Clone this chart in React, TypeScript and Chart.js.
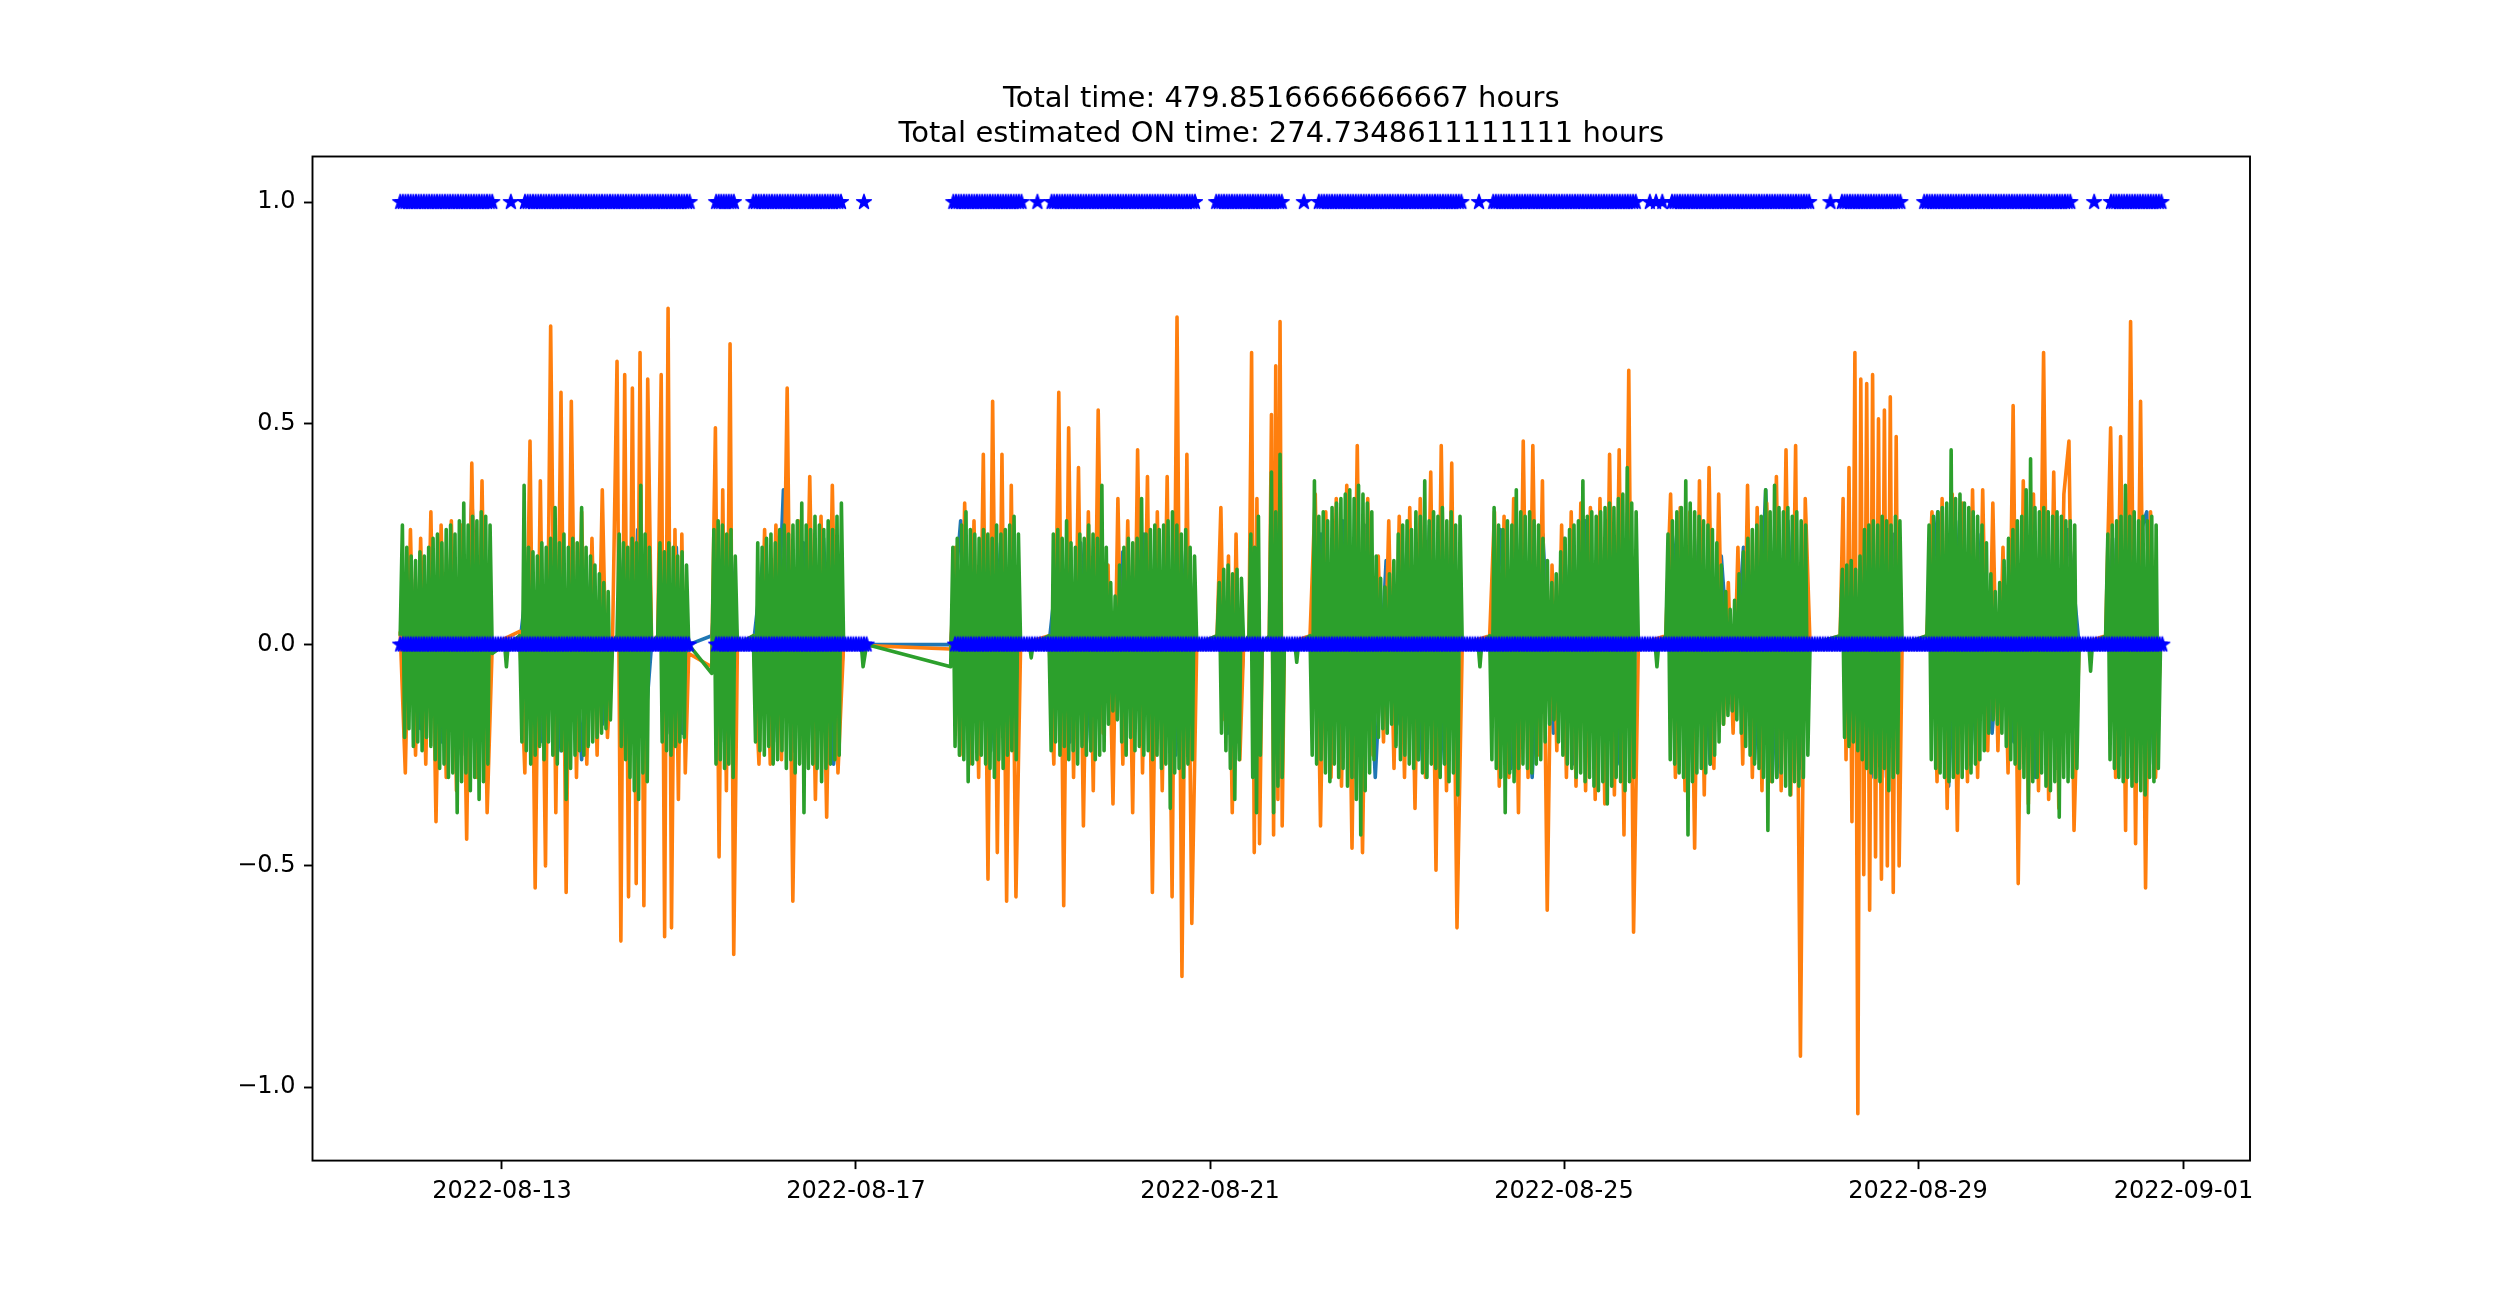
import React, { useEffect, useRef } from "react";
import { Chart, registerables } from "chart.js";
Chart.register(...registerables);

/** ---------- Data (x unit: days since 2022-08-11 00:00) ---------- */
const titleLines = [
  "Total time: 479.8516666666667 hours",
  "Total estimated ON time: 274.7348611111111 hours",
];

const xTickDays = [2, 6, 10, 14, 18, 21];
const xTickLabels = ["2022-08-13", "2022-08-17", "2022-08-21", "2022-08-25", "2022-08-29", "2022-09-01"];
const yTickValues = [-1, -0.5, 0, 0.5, 1];
const yTickLabels = ["\u22121.0", "\u22120.5", "0.0", "0.5", "1.0"];

const X_MIN = -0.141;
const X_MAX = 21.751;
const Y_MIN = -1.166;
const Y_MAX = 1.103;

// active bursts of the signal [start, end] in days; samples are spread evenly inside each one
const bursts: [number, number][] = [
  [0.85, 1.89], [2.2, 3.25], [3.3, 3.69], [3.76, 4.11], [4.37, 4.66], [4.84, 5.86],
  [7.07, 7.86], [8.18, 9.85], [10.08, 10.38], [10.44, 10.59], [10.67, 10.84],
  [11.13, 12.85], [13.16, 14.84], [15.15, 16.78], [17.12, 17.82], [18.1, 19.82], [20.12, 20.74],
];

const greenBursts: number[][] = [
  [0.02, 0.27, -0.21, 0.22, -0.19, 0.2, -0.23, 0.19, -0.22, 0.21, -0.24, 0.2, -0.21, 0.22, -0.23, 0.24, -0.26, 0.25, -0.28, 0.23, -0.27, 0.26, -0.3, 0.27, -0.29, 0.25, -0.38, 0.28, -0.31, 0.32, -0.29, 0.27, -0.33, 0.29, -0.3, 0.28, -0.35, 0.3, -0.31, 0.29, -0.27, 0.27, -0.02],
  [0.02, -0.22, 0.36, -0.24, 0.22, -0.27, 0.21, -0.25, 0.2, -0.23, 0.23, -0.26, 0.22, -0.22, 0.24, -0.25, 0.31, -0.27, 0.23, -0.24, 0.25, -0.35, 0.22, -0.28, 0.24, -0.25, 0.23, -0.24, 0.31, -0.25, 0.22, -0.23, 0.2, -0.22, 0.18, -0.21, 0.16, -0.2, 0.14, -0.19, 0.12, -0.17, 0.01],
  [0.02, 0.25, -0.23, 0.23, -0.26, 0.22, -0.3, 0.24, -0.33, 0.23, -0.35, 0.36, -0.29, 0.25, -0.31, 0.22, 0.0],
  [0.02, 0.23, -0.22, 0.21, -0.24, 0.23, -0.25, 0.22, -0.23, 0.2, -0.22, 0.21, -0.21, 0.18, 0.0],
  [-0.065, 0.26, -0.27, 0.28, -0.26, 0.27, -0.28, 0.25, -0.27, 0.26, -0.3, 0.2, 0.0],
  [0.02, -0.22, 0.23, -0.24, 0.22, -0.25, 0.24, -0.23, 0.25, -0.27, 0.23, -0.26, 0.26, -0.24, 0.27, -0.28, 0.25, -0.26, 0.27, -0.29, 0.28, -0.27, 0.32, -0.38, 0.27, -0.28, 0.26, -0.27, 0.29, -0.28, 0.27, -0.31, 0.26, -0.28, 0.28, -0.27, 0.26, -0.26, 0.29, -0.25, 0.32, 0.0],
  [-0.05, 0.22, -0.23, 0.24, -0.25, 0.27, -0.26, 0.3, -0.31, 0.26, -0.27, 0.25, -0.26, 0.24, -0.25, 0.26, -0.27, 0.25, -0.28, 0.24, -0.3, 0.27, -0.26, 0.25, -0.28, 0.26, -0.25, 0.27, -0.24, 0.29, -0.26, 0.25, 0.0],
  [0.02, -0.24, 0.25, -0.22, 0.26, -0.25, 0.24, -0.23, 0.28, -0.26, 0.23, -0.24, 0.22, -0.27, 0.25, -0.23, 0.24, -0.25, 0.27, -0.24, 0.25, -0.26, 0.24, -0.25, 0.36, -0.24, 0.22, -0.18, 0.14, -0.15, 0.11, -0.17, 0.18, -0.22, 0.22, -0.25, 0.24, -0.21, 0.23, -0.24, 0.24, -0.23, 0.33, -0.25, 0.25, -0.24, 0.26, -0.26, 0.27, -0.25, 0.26, -0.28, 0.27, -0.27, 0.28, -0.37, 0.3, -0.29, 0.27, -0.28, 0.25, -0.3, 0.26, -0.27, 0.22, -0.26, 0.2, 0.0],
  [0.02, 0.14, -0.2, 0.17, -0.24, 0.18, -0.28, 0.16, -0.35, 0.17, -0.26, 0.15, 0.0],
  [0.02, 0.25, -0.3, 0.22, -0.38, 0.29, -0.25, 0.0],
  [0.02, 0.39, -0.38, 0.3, -0.32, 0.43, -0.3, 0.0],
  [0.02, -0.25, 0.37, -0.27, 0.29, -0.26, 0.3, -0.29, 0.28, -0.31, 0.31, -0.27, 0.32, -0.3, 0.33, -0.28, 0.34, -0.32, 0.35, -0.3, 0.33, -0.35, 0.36, -0.43, 0.34, -0.33, 0.32, -0.29, 0.3, -0.26, 0.2, -0.21, 0.15, -0.19, 0.13, -0.2, 0.16, -0.18, 0.19, -0.23, 0.25, -0.26, 0.27, -0.25, 0.28, -0.27, 0.26, -0.28, 0.3, -0.26, 0.29, -0.29, 0.37, -0.3, 0.28, -0.27, 0.3, -0.28, 0.29, -0.3, 0.31, -0.27, 0.28, -0.31, 0.3, -0.29, 0.27, -0.34, 0.29, 0.0],
  [0.02, -0.26, 0.31, -0.28, 0.27, -0.3, 0.26, -0.38, 0.28, -0.29, 0.27, -0.31, 0.35, -0.28, 0.3, -0.27, 0.29, -0.28, 0.3, -0.29, 0.28, -0.27, 0.27, -0.26, 0.24, -0.22, 0.19, -0.18, 0.14, -0.17, 0.16, -0.22, 0.21, -0.25, 0.24, -0.27, 0.26, -0.28, 0.27, -0.3, 0.28, -0.29, 0.37, -0.31, 0.29, -0.3, 0.3, -0.32, 0.29, -0.33, 0.3, -0.31, 0.31, -0.36, 0.32, -0.32, 0.31, -0.3, 0.33, -0.31, 0.34, -0.33, 0.4, -0.31, 0.32, -0.3, 0.3, 0.0],
  [0.02, 0.25, -0.26, 0.28, -0.27, 0.3, -0.29, 0.31, -0.3, 0.37, -0.43, 0.32, -0.31, 0.3, -0.29, 0.29, -0.28, 0.28, -0.29, 0.27, -0.27, 0.26, -0.25, 0.23, -0.22, 0.18, -0.18, 0.12, -0.16, 0.08, -0.15, 0.1, -0.17, 0.16, -0.2, 0.21, -0.23, 0.24, -0.25, 0.26, -0.27, 0.27, -0.28, 0.29, -0.3, 0.35, -0.42, 0.3, -0.31, 0.36, -0.3, 0.31, -0.29, 0.3, -0.32, 0.31, -0.34, 0.29, -0.31, 0.3, -0.32, 0.28, -0.3, 0.27, -0.25, 0.0],
  [0.02, 0.17, -0.21, 0.18, -0.23, 0.19, -0.22, 0.17, -0.24, 0.2, -0.26, 0.26, -0.28, 0.27, -0.29, 0.28, -0.3, 0.27, -0.31, 0.29, -0.28, 0.28, -0.33, 0.27, -0.3, 0.29, -0.29, 0.28, 0.0],
  [0.02, 0.27, -0.26, 0.29, -0.28, 0.3, -0.29, 0.31, -0.3, 0.32, -0.31, 0.44, -0.3, 0.33, -0.29, 0.34, -0.3, 0.32, -0.28, 0.31, -0.29, 0.3, -0.27, 0.29, -0.26, 0.27, -0.24, 0.23, -0.2, 0.16, -0.17, 0.12, -0.18, 0.14, -0.2, 0.19, -0.23, 0.24, -0.26, 0.26, -0.27, 0.28, -0.28, 0.29, -0.3, 0.35, -0.38, 0.42, -0.31, 0.31, -0.3, 0.3, -0.29, 0.31, -0.32, 0.3, -0.33, 0.29, -0.31, 0.3, -0.39, 0.29, -0.3, 0.28, -0.31, 0.28, -0.3, 0.27, -0.28, 0.0],
  [0.02, 0.25, -0.26, 0.27, -0.28, 0.28, -0.3, 0.29, -0.31, 0.36, -0.3, 0.29, -0.32, 0.3, -0.31, 0.28, -0.33, 0.29, -0.34, 0.28, -0.3, 0.29, -0.31, 0.27, -0.28, 0.0],
];

const orangeBursts: number[][] = [
  [0.03, -0.29, 0.26, -0.25, 0.24, -0.27, 0.3, -0.4, 0.27, -0.3, 0.28, -0.33, 0.27, -0.44, 0.41, -0.3, 0.37, -0.38, 0.0],
  [0.03, -0.29, 0.46, -0.55, 0.37, -0.5, 0.72, -0.38, 0.57, -0.56, 0.55, -0.3, 0.3, -0.27, 0.24, -0.25, 0.35, -0.21, 0.02],
  [0.64, -0.67, 0.61, -0.57, 0.58, -0.54, 0.66, -0.59, 0.6, 0.0],
  [0.02, 0.61, -0.66, 0.76, -0.64, 0.26, -0.35, 0.25, -0.29, -0.02],
  [-0.05, 0.49, -0.48, 0.35, -0.33, 0.68, -0.7, 0.0],
  [0.02, -0.27, 0.26, -0.27, 0.27, -0.26, 0.58, -0.58, 0.28, -0.3, 0.38, -0.35, 0.29, -0.39, 0.36, -0.29, 0.0],
  [-0.01, 0.22, -0.25, 0.32, -0.27, 0.28, -0.3, 0.43, -0.53, 0.55, -0.47, 0.43, -0.58, 0.36, -0.57, 0.0],
  [0.02, -0.27, 0.57, -0.59, 0.49, -0.3, 0.4, -0.41, 0.3, -0.33, 0.53, -0.2, 0.18, -0.36, 0.33, -0.27, 0.28, -0.38, 0.44, -0.29, 0.38, -0.56, 0.3, -0.33, 0.38, -0.57, 0.74, -0.75, 0.43, -0.63, 0.0],
  [0.02, 0.31, -0.17, 0.2, -0.38, 0.25, -0.26, 0.0],
  [0.02, 0.66, -0.47, 0.33, -0.45, 0.0],
  [0.02, 0.52, -0.43, 0.63, -0.35, 0.73, -0.41, 0.0],
  [0.02, 0.34, -0.41, 0.3, -0.3, 0.33, -0.32, 0.36, -0.46, 0.45, -0.47, 0.33, -0.25, 0.2, -0.22, 0.28, -0.28, 0.29, -0.3, 0.31, -0.37, 0.33, -0.3, 0.39, -0.51, 0.45, -0.33, 0.41, -0.64, 0.0],
  [0.02, 0.3, -0.32, 0.29, -0.3, 0.33, -0.38, 0.46, -0.3, 0.45, -0.25, 0.37, -0.6, 0.18, -0.24, 0.27, -0.3, 0.3, -0.32, 0.32, -0.33, 0.31, -0.35, 0.33, -0.36, 0.43, -0.34, 0.44, -0.43, 0.62, -0.65, 0.0],
  [0.02, 0.34, -0.3, 0.31, -0.33, 0.3, -0.46, 0.37, -0.34, 0.4, -0.28, 0.34, -0.18, 0.14, -0.2, 0.22, -0.27, 0.36, -0.3, 0.31, -0.33, 0.32, -0.31, 0.38, -0.33, 0.44, -0.34, 0.45, -0.93, 0.33, 0.0],
  [0.02, 0.33, -0.26, 0.4, -0.4, 0.66, -1.06, 0.6, -0.52, 0.59, -0.6, 0.61, -0.48, 0.51, -0.53, 0.53, -0.5, 0.56, -0.56, 0.47, -0.5, 0.0],
  [0.02, 0.3, -0.31, 0.33, -0.37, 0.34, -0.42, 0.32, -0.31, 0.35, -0.3, 0.35, -0.24, 0.32, -0.24, 0.22, -0.29, 0.54, -0.54, 0.37, -0.36, 0.34, -0.33, 0.66, -0.35, 0.39, -0.37, 0.34, 0.46, -0.42, 0.0],
  [0.02, 0.49, -0.3, 0.47, -0.42, 0.73, -0.45, 0.55, -0.55, 0.3, -0.3, 0.0],
];

const blueBursts: number[][] = [
  [0.0, 0.18, -0.19, 0.21, -0.22, 0.22, -0.25, 0.33, -0.21, 0.0],
  [0.0, 0.2, -0.22, 0.21, -0.24, 0.22, -0.26, 0.2, -0.18, 0.0],
  [0.0, 0.2, -0.22, 0.26, -0.2, 0.0],
  [0.0, 0.18, -0.2, 0.22, -0.2, 0.0],
  [0.02, 0.2, -0.22, 0.2, 0.0],
  [0.0, 0.2, -0.22, 0.35, -0.24, 0.23, -0.25, 0.24, -0.27, 0.0],
  [0.0, 0.28, -0.22, 0.22, -0.24, 0.23, -0.23, 0.0],
  [0.0, 0.22, -0.22, 0.23, -0.24, 0.2, -0.2, 0.21, -0.22, 0.25, -0.23, 0.22, -0.25, 0.23, 0.0],
  [0.0, 0.15, -0.2, 0.15, -0.22, 0.0],
  [0.0, 0.2, -0.25, 0.0],
  [0.0, 0.3, -0.3, 0.0],
  [0.0, 0.25, -0.25, 0.28, -0.3, 0.27, -0.3, 0.19, -0.18, 0.25, -0.26, 0.27, -0.27, 0.25, 0.0],
  [0.0, 0.26, -0.28, 0.27, -0.3, 0.25, -0.2, 0.24, -0.27, 0.28, -0.3, 0.28, -0.27, 0.3, 0.0],
  [0.0, 0.25, -0.28, 0.26, -0.27, 0.2, -0.15, 0.22, -0.26, 0.35, -0.3, 0.28, -0.28, 0.0],
  [0.0, 0.15, -0.2, 0.25, -0.3, 0.27, -0.3, 0.25, 0.0],
  [0.0, 0.3, -0.32, 0.28, -0.27, 0.25, -0.2, 0.15, -0.22, 0.27, -0.3, 0.3, -0.28, 0.26, 0.0],
  [0.0, 0.24, -0.25, 0.26, -0.27, 0.25, 0.3, -0.27, 0.0],
];

// small readings between bursts [day, value]
const greenQuiet: [number, number][] = [
  [2.03, 0.0], [2.05, -0.05], [2.07, 0.0], [3.27, 0.01], [6.06, 0.0], [6.08, -0.05], [6.12, 0.0],
  [7.96, 0.0], [7.98, -0.03], [8.0, 0.0], [10.96, 0.0], [10.98, -0.04], [11.0, 0.0],
  [13.03, 0.0], [13.05, -0.05], [13.07, 0.0], [15.03, 0.0], [15.05, -0.05], [15.07, 0.0],
  [19.93, 0.0], [19.95, -0.06], [19.97, 0.0],
];

// estimated state: spans where the marker sits at 1 (ON) and at 0 (OFF)
const stateOnSpans: [number, number][] = [
  [0.85, 1.89], [2.1, 2.1], [2.26, 4.12], [4.42, 4.62], [4.84, 5.83], [6.09, 6.09], [7.1, 7.87],
  [8.05, 8.05], [8.21, 9.83], [10.07, 10.81], [11.06, 11.06], [11.23, 12.84], [13.04, 13.04],
  [13.2, 14.81], [14.97, 14.97], [15.04, 15.04], [15.11, 15.11], [15.22, 16.77], [17.01, 17.01],
  [17.14, 17.8], [18.07, 19.72], [19.99, 19.99], [20.18, 20.75],
];
const stateOffSpans: [number, number][] = [[0.85, 4.11], [4.42, 6.12], [7.12, 20.76]];
const stateStep = 0.03;

/** ---------- Helpers ---------- */
function seriesPoints(values: number[][], quiet: [number, number][] = []) {
  const pts: { x: number; y: number }[] = [];
  values.forEach((vals, b) => {
    const [a, e] = bursts[b];
    const n = vals.length;
    vals.forEach((v, i) => pts.push({ x: a + ((e - a) * i) / (n - 1), y: v }));
  });
  quiet.forEach(([x, y]) => pts.push({ x, y }));
  return pts.sort((p, q) => p.x - q.x);
}

function statePoints() {
  const pts: { x: number; y: number }[] = [];
  const add = (spans: [number, number][], level: number) =>
    spans.forEach(([a, e]) => {
      const n = Math.max(0, Math.round((e - a) / stateStep));
      for (let i = 0; i <= n; i++) pts.push({ x: n ? a + ((e - a) * i) / n : a, y: level });
    });
  add(stateOffSpans, 0);
  add(stateOnSpans, 1);
  return pts;
}

// filled 5-point star, like matplotlib's "*" marker
function makeStar(color: string) {
  const c = document.createElement("canvas");
  const s = 22;
  c.width = s;
  c.height = s;
  const g = c.getContext("2d")!;
  const R = 7.8;
  const r = R * 0.381966;
  g.beginPath();
  for (let k = 0; k < 10; k++) {
    const ang = -Math.PI / 2 + (k * Math.PI) / 5;
    const rad = k % 2 === 0 ? R : r;
    g.lineTo(s / 2 + rad * Math.cos(ang), s / 2 + rad * Math.sin(ang));
  }
  g.closePath();
  g.fillStyle = color;
  g.fill();
  g.lineWidth = 1.4;
  g.lineJoin = "round";
  g.strokeStyle = color;
  g.stroke();
  return c;
}

const FONT = "DejaVu Sans";

export default function App() {
  const canvasRef = useRef<HTMLCanvasElement | null>(null);

  useEffect(() => {
    const canvas = canvasRef.current;
    if (!canvas) return;

    const titlePlugin = {
      id: "figTitle",
      afterDraw(chart: any) {
        const { ctx, chartArea } = chart;
        const cx = (chartArea.left + chartArea.right) / 2;
        ctx.save();
        ctx.font = `29px "${FONT}"`;
        ctx.fillStyle = "#000";
        ctx.textAlign = "center";
        ctx.textBaseline = "alphabetic";
        titleLines.forEach((line, i) => {
          ctx.fillText(line, cx, chartArea.top - 14.6 - (titleLines.length - 1 - i) * 35);
        });
        ctx.restore();
      },
    };

    // axes frame (all four spines), drawn over the data like matplotlib
    const framePlugin = {
      id: "frame",
      afterDatasetsDraw(chart: any) {
        const { ctx, chartArea: a } = chart;
        ctx.save();
        ctx.strokeStyle = "#000";
        ctx.lineWidth = 1.9;
        ctx.strokeRect(a.left, a.top, a.right - a.left, a.bottom - a.top);
        ctx.restore();
      },
    };

    const lineStyle = {
      borderWidth: 3.6,
      pointRadius: 0,
      pointHitRadius: 0,
      borderJoinStyle: "round" as const,
      fill: false,
    };

    const chart = new Chart(canvas, {
      type: "line",
      data: {
        datasets: [
          {
            label: "state",
            data: statePoints(),
            showLine: false,
            pointStyle: makeStar("#0000ff") as any,
            pointRadius: 8,
            pointHitRadius: 0,
            order: 0,
          },
          { label: "z", data: seriesPoints(greenBursts, greenQuiet), borderColor: "#2ca02c", order: 1, ...lineStyle },
          { label: "y", data: seriesPoints(orangeBursts), borderColor: "#ff7f0e", order: 2, ...lineStyle },
          { label: "x", data: seriesPoints(blueBursts), borderColor: "#1f77b4", order: 3, ...lineStyle },
        ],
      },
      options: {
        responsive: false,
        devicePixelRatio: 1,
        animation: false,
        parsing: false,
        normalized: true,
        events: [],
        layout: { padding: { left: 0, right: 250, top: 156.5, bottom: 0 } },
        elements: { line: { tension: 0 } },
        plugins: {
          legend: { display: false },
          tooltip: { enabled: false },
          title: { display: false },
        },
        scales: {
          x: {
            type: "linear",
            min: X_MIN,
            max: X_MAX,
            afterBuildTicks: (scale: any) => {
              scale.ticks = xTickDays.map((v) => ({ value: v }));
            },
            afterFit: (scale: any) => {
              scale.height = 1304 - 1160.6;
            },
            ticks: {
              autoSkip: false,
              maxRotation: 0,
              minRotation: 0,
              padding: 8,
              color: "#000",
              font: { family: FONT, size: 24 },
              callback: (_v: any, i: number) => xTickLabels[i],
            },
            grid: { drawOnChartArea: false, tickLength: 8.5, tickColor: "#000", tickWidth: 1.9 },
            border: { display: false },
          },
          y: {
            type: "linear",
            min: Y_MIN,
            max: Y_MAX,
            afterBuildTicks: (scale: any) => {
              scale.ticks = yTickValues.map((v) => ({ value: v }));
            },
            afterFit: (scale: any) => {
              scale.width = 312.5;
            },
            ticks: {
              autoSkip: false,
              padding: 8.5,
              color: "#000",
              font: { family: FONT, size: 24 },
              callback: (_v: any, i: number) => yTickLabels[i],
            },
            grid: { drawOnChartArea: false, tickLength: 8.5, tickColor: "#000", tickWidth: 1.9 },
            border: { display: false },
          },
        },
      },
      plugins: [titlePlugin, framePlugin],
    });

    return () => chart.destroy();
  }, []);

  return (
    <div style={{ position: "fixed", left: 0, top: 0, width: 2500, height: 1304, background: "#fff" }}>
      <canvas ref={canvasRef} width={2500} height={1304} style={{ width: 2500, height: 1304, display: "block" }} />
    </div>
  );
}
